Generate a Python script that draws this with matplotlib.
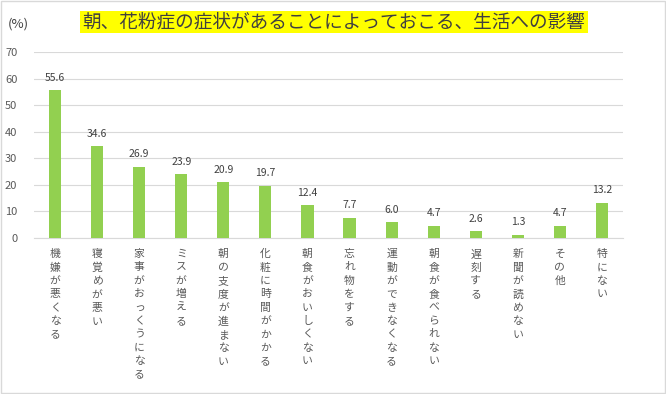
import matplotlib.pyplot as plt
from matplotlib.patches import Rectangle

plt.rcParams['font.family'] = ['Noto Sans CJK JP', 'DejaVu Sans']

categories = ['機嫌が悪くなる', '寝覚めが悪い', '家事がおっくうになる', 'ミスが増える',
              '朝の支度が進まない', '化粧に時間がかかる', '朝食がおいしくない', '忘れ物をする',
              '運動ができなくなる', '朝食が食べられない', '遅刻する', '新聞が読めない',
              'その他', '特にない']
values = [55.6, 34.6, 26.9, 23.9, 20.9, 19.7, 12.4, 7.7, 6.0, 4.7, 2.6, 1.3, 4.7, 13.2]
yticks = [0, 10, 20, 30, 40, 50, 60, 70]
title = '朝、花粉症の症状があることによっておこる、生活への影響'

fig = plt.figure(figsize=(6.66, 3.94), dpi=100)
ax = fig.add_axes([34 / 666, 1 - 238 / 394, 589 / 666, 186 / 394])

x = list(range(len(categories)))
ax.bar(x, values, width=0.29, color='#92D050', zorder=3)
for xi, v in zip(x, values):
    ax.text(xi, v + 2.8, f'{v:.1f}', ha='center', va='bottom', fontsize=7.5,
            color='#404040')

ax.set_xlim(-0.5, len(categories) - 0.5)
ax.set_ylim(0, 70)
ax.set_yticks(yticks)
ax.set_yticklabels([str(t) for t in yticks], fontsize=8, color='#595959')
ax.yaxis.grid(True, color='#D9D9D9', linewidth=0.8, zorder=0)
ax.set_xticks(x)
ax.set_xticklabels(['\n'.join(c) for c in categories], fontsize=7.8, color='#595959',
                   va='top', linespacing=1.42)
ax.tick_params(axis='both', length=0)
ax.tick_params(axis='x', pad=8)
ax.tick_params(axis='y', pad=12)
for s in ['left', 'right', 'top']:
    ax.spines[s].set_visible(False)
ax.spines['bottom'].set_color('#D9D9D9')

fig.text(8 / 666, 1 - 24 / 394, '(%)', fontsize=9.5, color='#404040', va='center')
fig.text(334 / 666, 1 - 22 / 394, title, fontsize=13.4, color='#404040',
         ha='center', va='center',
         bbox=dict(boxstyle='square,pad=0.12', facecolor='#FFFF00', edgecolor='none'))

fig.patches.append(Rectangle((0.002, 0.002), 0.996, 0.996, transform=fig.transFigure,
                             fill=False, edgecolor='#D9D9D9', linewidth=1))

fig.savefig('out.png', dpi=100)
